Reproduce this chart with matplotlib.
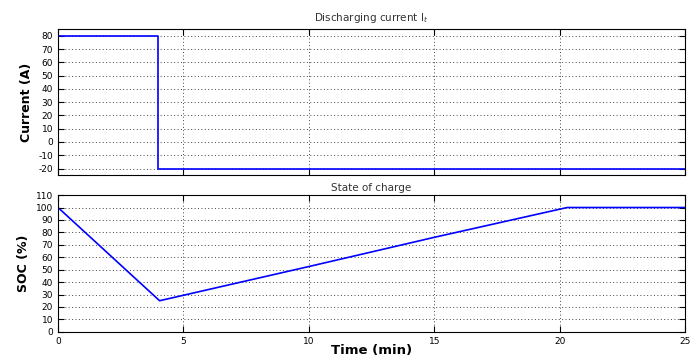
import matplotlib.pyplot as plt

plt.rcParams['axes.unicode_minus'] = False

# discharge / charge current profile
t_current = [0, 4.0, 4.0, 25]
current = [80, 80, -20, -20]

# state of charge profile
t_soc = [0, 4.05, 10, 15, 20.3, 25]
soc = [100, 25, 52.5, 76, 100, 100]

current_ticks = [-20, -10, 0, 10, 20, 30, 40, 50, 60, 70, 80]
soc_ticks = [0, 10, 20, 30, 40, 50, 60, 70, 80, 90, 100, 110]
time_ticks = [0, 5, 10, 15, 20, 25]

fig = plt.figure(figsize=(6.99, 3.56), dpi=100)
ax1 = fig.add_axes([0.083, 0.508, 0.897, 0.41])
ax2 = fig.add_axes([0.083, 0.068, 0.897, 0.384])

for ax in (ax1, ax2):
    ax.grid(True, color='#444444', linestyle=(0, (1, 2.5)), linewidth=0.7)
    ax.tick_params(direction='in', top=True, right=True, labelsize=6.5, length=4, width=0.8)
    ax.set_xlim(0, 25)
    ax.set_xticks(time_ticks)
    for s in ax.spines.values():
        s.set_linewidth(0.8)

ax1.plot(t_current, current, color='blue', linewidth=1.2)
ax1.set_ylim(-25, 85)
ax1.set_yticks(current_ticks)
ax1.set_xticklabels([])
ax1.set_ylabel('Current (A)', fontsize=9, fontweight='bold')
ax1.set_title('Discharging current I$_t$', fontsize=7.5, color='#333333', pad=6)

ax2.plot(t_soc, soc, color='blue', linewidth=1.2)
ax2.set_ylim(0, 110)
ax2.set_yticks(soc_ticks)
ax2.set_ylabel('SOC (%)', fontsize=9, fontweight='bold')
ax2.set_title('State of charge', fontsize=7.5, color='#333333', pad=3)
ax2.set_xlabel('Time (min)', fontsize=9.5, fontweight='bold', labelpad=-1)

fig.savefig('out.png', dpi=100)
